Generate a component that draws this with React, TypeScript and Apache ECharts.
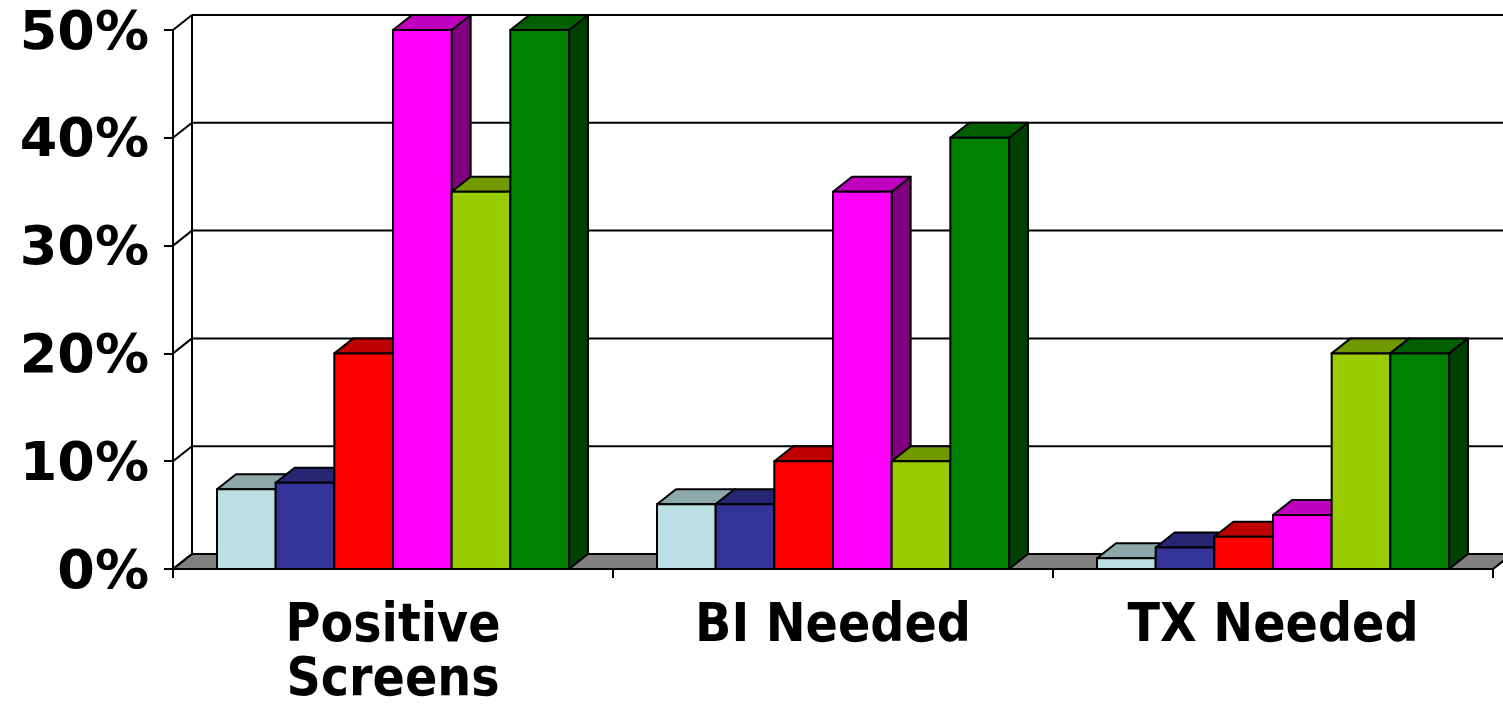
import React, { useEffect, useRef } from "react";
import * as echarts from "echarts";

const categories = ["Positive\nScreens", "BI Needed", "TX Needed"];
const yTicks = [0, 0.1, 0.2, 0.3, 0.4, 0.5];

const series1 = [0.074, 0.06, 0.01];
const series2 = [0.08, 0.06, 0.02];
const series3 = [0.2, 0.1, 0.03];
const series4 = [0.5, 0.35, 0.05];
const series5 = [0.35, 0.1, 0.2];
const series6 = [0.5, 0.4, 0.2];

const allSeries = [series1, series2, series3, series4, series5, series6];

const palette = [
  { front: "#BBE0E3", top: "#8CA8AA", side: "#5E7072" },
  { front: "#333399", top: "#262673", side: "#1A1A4D" },
  { front: "#FF0000", top: "#BF0000", side: "#800000" },
  { front: "#FF00FF", top: "#BF00BF", side: "#800080" },
  { front: "#99CC00", top: "#739900", side: "#4D6600" },
  { front: "#008000", top: "#006000", side: "#004000" },
];

const DX = 19;
const DY = 15;
const GROUP_RATIO = 0.8;

export default function App() {
  const ref = useRef<HTMLDivElement>(null);

  useEffect(() => {
    if (!ref.current) return;
    const chart = echarts.init(ref.current, null, { renderer: "svg" });

    const wallSeries = {
      type: "custom",
      z: 1,
      clip: false,
      silent: true,
      encode: { x: 0, y: 1 },
      data: yTicks.map((v) => [0, v]),
      renderItem: (params: any, api: any) => {
        const cs = params.coordSys;
        const v = api.value(1);
        const y = api.coord([0, v])[1];
        const x0 = cs.x;
        const x1 = cs.x + cs.width;
        const children: any[] = [];
        if (v === 0) {
          children.push({
            type: "polygon",
            shape: {
              points: [
                [x0, y],
                [x0 + DX, y - DY],
                [x1 + DX, y - DY],
                [x1, y],
              ],
            },
            style: { fill: "#808080", stroke: "#000", lineWidth: 2 },
          });
          const yTop = api.coord([0, yTicks[yTicks.length - 1]])[1];
          children.push({
            type: "line",
            shape: { x1: x0 + DX, y1: y - DY, x2: x0 + DX, y2: yTop - DY },
            style: { stroke: "#000", lineWidth: 2 },
          });
        } else {
          children.push({
            type: "line",
            shape: { x1: x0 + DX, y1: y - DY, x2: x1 + DX + 20, y2: y - DY },
            style: { stroke: "#000", lineWidth: 2 },
          });
        }
        children.push({
          type: "line",
          shape: { x1: x0, y1: y, x2: x0 + DX, y2: y - DY },
          style: { stroke: "#000", lineWidth: 2 },
        });
        return { type: "group", children };
      },
    };

    const barSeries = allSeries.map((vals, si) => ({
      type: "custom",
      name: "Series " + (si + 1),
      z: 2,
      clip: false,
      encode: { x: 0, y: 1 },
      data: vals.map((v, ci) => [ci, v]),
      renderItem: (params: any, api: any) => {
        const ci = api.value(0);
        const v = api.value(1);
        const base = api.coord([ci, 0]);
        const top = api.coord([ci, v]);
        const catW = api.size([1, 0])[0];
        const bw = (catW * GROUP_RATIO) / allSeries.length;
        const x0 = base[0] - (catW * GROUP_RATIO) / 2 + si * bw;
        const x1 = x0 + bw;
        const ty = top[1];
        const by = base[1];
        const c = palette[si];
        return {
          type: "group",
          children: [
            {
              type: "polygon",
              shape: {
                points: [
                  [x1, ty],
                  [x1 + DX, ty - DY],
                  [x1 + DX, by - DY],
                  [x1, by],
                ],
              },
              style: { fill: c.side, stroke: "#000", lineWidth: 2, lineJoin: "round" },
            },
            {
              type: "polygon",
              shape: {
                points: [
                  [x0, ty],
                  [x0 + DX, ty - DY],
                  [x1 + DX, ty - DY],
                  [x1, ty],
                ],
              },
              style: { fill: c.top, stroke: "#000", lineWidth: 2, lineJoin: "round" },
            },
            {
              type: "rect",
              shape: { x: x0, y: ty, width: bw, height: by - ty },
              style: { fill: c.front, stroke: "#000", lineWidth: 2 },
            },
          ],
        };
      },
    }));

    chart.setOption({
      animation: false,
      backgroundColor: "#ffffff",
      grid: { left: 173, top: 30, right: 10, bottom: 142, containLabel: false },
      xAxis: {
        type: "category",
        data: categories,
        boundaryGap: true,
        axisLine: { show: true, lineStyle: { color: "#000", width: 2 } },
        axisTick: { show: true, length: 9, lineStyle: { color: "#000", width: 2 } },
        axisLabel: {
          margin: 26,
          color: "#000",
          fontFamily: "'DejaVu Sans Condensed', 'DejaVu Sans', sans-serif",
          fontWeight: "bold",
          fontSize: 53,
          lineHeight: 54,
          interval: 0,
        },
        splitLine: { show: false },
      },
      yAxis: {
        type: "value",
        min: 0,
        max: 0.5,
        interval: 0.1,
        axisLine: { show: true, lineStyle: { color: "#000", width: 2 } },
        axisTick: { show: true, length: 9, lineStyle: { color: "#000", width: 2 } },
        axisLabel: {
          margin: 24,
          color: "#000",
          fontFamily: "'DejaVu Sans', sans-serif",
          fontWeight: "bold",
          fontSize: 54,
          formatter: (v: number) => Math.round(v * 100) + "%",
        },
        splitLine: { show: false },
      },
      series: [wallSeries, ...barSeries],
    });

    return () => chart.dispose();
  }, []);

  return (
    <div
      ref={ref}
      style={{ position: "absolute", left: 0, top: 0, width: 1503, height: 711 }}
    />
  );
}
